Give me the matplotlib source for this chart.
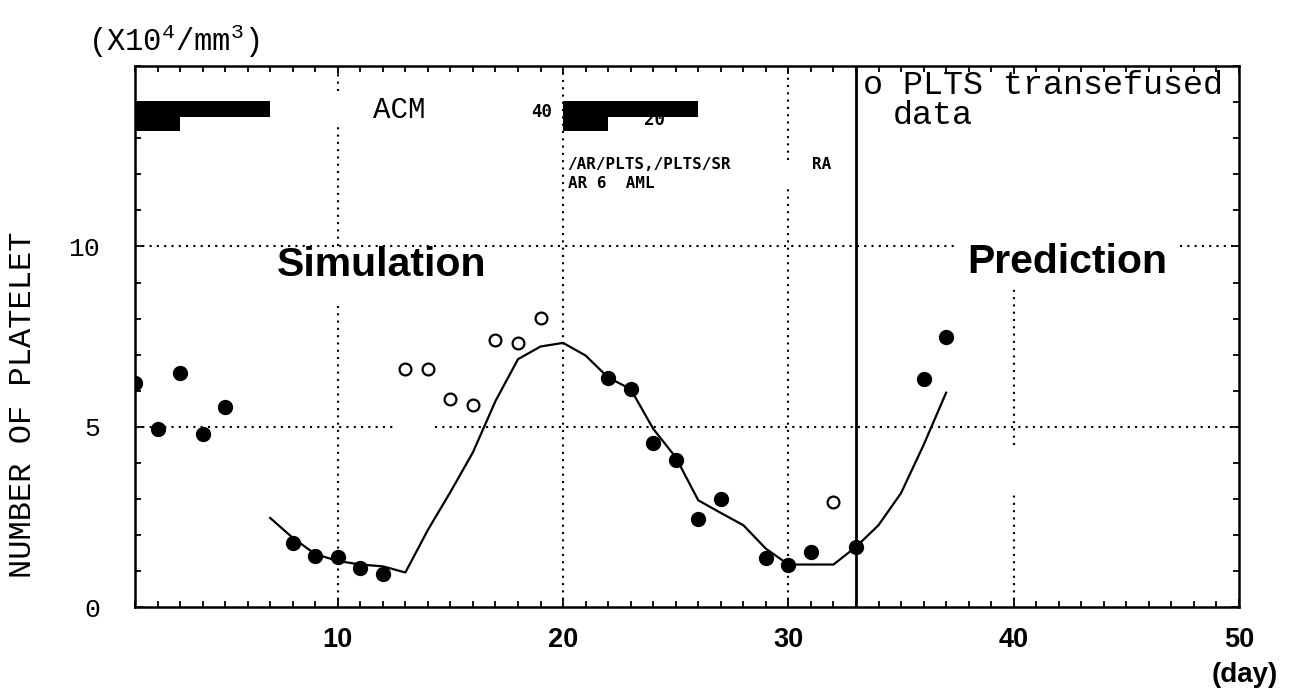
import matplotlib
matplotlib.use("Agg")
import matplotlib.pyplot as plt

plt.rcParams['mathtext.fontset'] = 'custom'
plt.rcParams['mathtext.rm'] = 'Liberation Mono'
plt.rcParams['mathtext.it'] = 'Liberation Mono'
plt.rcParams['mathtext.bf'] = 'Liberation Mono:bold'

# ---------------- data ----------------
sim_days = list(range(7, 38))
sim_values = [2.48, 1.93, 1.48, 1.29, 1.19, 1.14, 0.97, 2.15, 3.2, 4.3,
              5.72, 6.88, 7.23, 7.33, 6.98, 6.37, 6.05, 4.95, 4.16, 2.97,
              2.62, 2.28, 1.63, 1.19, 1.19, 1.19, 1.68, 2.28, 3.17, 4.5, 5.95]

filled_days = [1, 2, 3, 4, 5, 8, 9, 10, 11, 12, 22, 23, 24, 25, 26, 27,
               29, 30, 31, 33, 36, 37]
filled_values = [6.23, 4.94, 6.49, 4.80, 5.56, 1.78, 1.43, 1.39, 1.09, 0.93,
                 6.37, 6.05, 4.55, 4.09, 2.45, 3.0, 1.38, 1.18, 1.53, 1.67,
                 6.32, 7.5]

transfused_days = [13, 14, 15, 16, 17, 18, 19, 32]
transfused_values = [6.6, 6.6, 5.78, 5.61, 7.41, 7.32, 8.01, 2.93]

# chemotherapy courses (start day, end day)
course_long_start = [1, 20]
course_long_end = [7, 26]
course_short_start = [1, 20]
course_short_end = [3, 22]

prediction_start = 33
x_major = [10, 20, 30, 40, 50]
y_major = [0, 5, 10]

# ---------------- figure ----------------
fig = plt.figure(figsize=(12.94, 6.89), dpi=100)
ax = fig.add_axes([0.10433, 0.11829, 0.85317, 0.78592])
ax.set_xlim(1, 50)
ax.set_ylim(0, 15)

dot = (0, (1, 2.5))
gkw = dict(color='black', lw=1.5, linestyle=dot, zorder=1)
# dotted grid (with the gaps of the original)
ax.vlines(10, 0, 8.5, **gkw)
ax.vlines(10, 10.0, 13.4, **gkw)
ax.vlines(10, 14.3, 15, **gkw)
ax.vlines(20, 0, 15, **gkw)
ax.vlines(30, 0, 11.65, **gkw)
ax.vlines(30, 12.4, 15, **gkw)
ax.vlines(40, 0, 3.17, **gkw)
ax.vlines(40, 4.5, 8.9, **gkw)
ax.hlines(5, 1, 12.5, **gkw)
ax.hlines(5, 14.3, 50, **gkw)
ax.hlines(10, 1, 37.5, **gkw)
ax.hlines(10, 47.4, 50, **gkw)

# prediction boundary
ax.axvline(prediction_start, color='black', lw=2.0, zorder=2)

# treatment bars
ax.broken_barh([(s, e - s) for s, e in zip(course_long_start, course_long_end)],
               (13.6, 0.42), facecolors='black', zorder=3)
ax.broken_barh([(s, e - s) for s, e in zip(course_short_start, course_short_end)],
               (13.2, 0.42), facecolors='black', zorder=3)

# simulation curve
ax.plot(sim_days, sim_values, color='black', lw=1.6, zorder=4)
# observed data
ax.plot(filled_days, filled_values, 'o', color='black', ms=10, zorder=5)
ax.plot(transfused_days, transfused_values, 'o', mfc='white', mec='black',
        mew=1.6, ms=8.5, zorder=5)

# ticks / spines
for s in ax.spines.values():
    s.set_linewidth(1.8)
ax.set_xticks(x_major)
ax.set_xticks(range(1, 51), minor=True)
ax.set_yticks(y_major)
ax.set_yticks(range(0, 16), minor=True)
ax.tick_params(which='both', direction='in', top=True, right=True, width=1.3)
ax.tick_params(which='major', length=6)
ax.tick_params(which='minor', length=4)
ax.tick_params(axis='x', pad=14)
ax.tick_params(axis='y', pad=25)
for lab in ax.get_xticklabels():
    lab.set_fontfamily('Liberation Sans')
    lab.set_fontweight('bold')
    lab.set_fontsize(19.5)
for lab in ax.get_yticklabels():
    lab.set_fontfamily('Liberation Mono')
    lab.set_fontsize(19)

# texts
mono = 'Liberation Mono'
small = 'DejaVu Sans Mono'
ax.text(12.72, 13.78, 'ACM', family=mono, fontsize=21, ha='center', va='center')
ax.text(19.05, 13.73, '40', family=small, weight='bold', fontsize=12.5,
        ha='center', va='center')
ax.text(24.07, 13.5, '20', family=small, weight='bold', fontsize=12.5,
        ha='center', va='center')
ax.text(20.2, 12.27, '/AR/PLTS,/PLTS/SR', family=small, weight='bold',
        fontsize=11.5, ha='left', va='center')
ax.text(31.07, 12.27, 'RA', family=small, weight='bold', fontsize=11.5,
        ha='left', va='center')
ax.text(20.2, 11.74, 'AR 6  AML', family=small, weight='bold', fontsize=11.5,
        ha='left', va='center')

ax.text(11.94, 9.49, 'Simulation', family='Liberation Sans', weight='bold',
        fontsize=29.5, ha='center', va='center')
ax.text(42.38, 9.57, 'Prediction', family='Liberation Sans', weight='bold',
        fontsize=29.5, ha='center', va='center')

ax.text(33.29, 14.47, 'o PLTS transefused', family=mono, fontsize=24,
        ha='left', va='center')
ax.text(34.62, 13.62, 'data', family=mono, fontsize=24, ha='left', va='center')

fig.text(23 / 1294, 1 - 405 / 689, 'NUMBER OF PLATELET', family=mono,
         fontsize=23, rotation=90, ha='center', va='center')
fig.text(88 / 1294, 1 - 41 / 689, r'(X10$^{4}$/mm$^{3}$)', family=mono,
         fontsize=22, ha='left', va='center')
fig.text(1245 / 1294, 1 - 675 / 689, '(day)', family='Liberation Sans',
         weight='bold', fontsize=20, ha='center', va='center')

fig.savefig('out.png', dpi=100)
